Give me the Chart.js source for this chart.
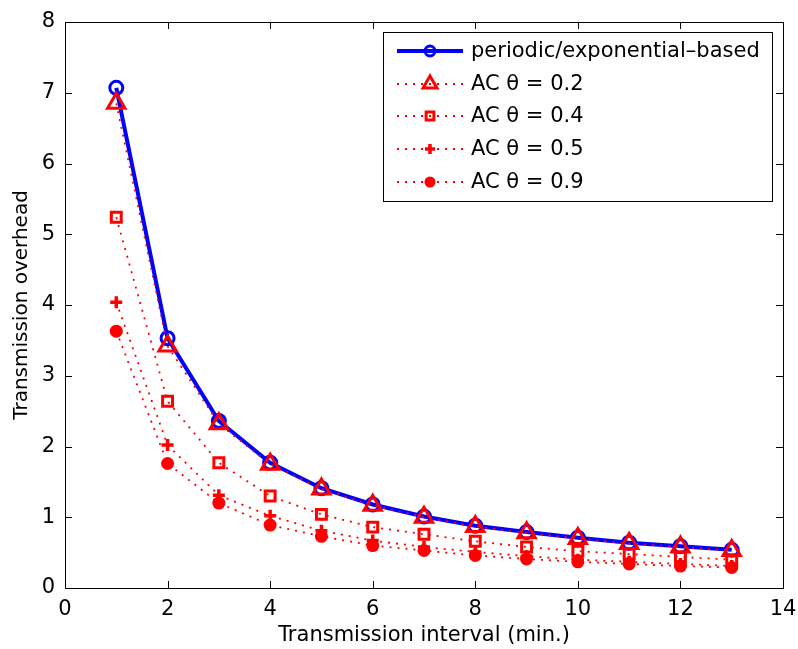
<!DOCTYPE html>
<html>
<head>
<meta charset="utf-8">
<script src="https://cdn.jsdelivr.net/npm/chart.js@4.4.1/dist/chart.umd.min.js"></script>
<style>
  body { margin: 0; background: #fff; }
  #wrap { width: 798px; height: 649px; }
</style>
</head>
<body>
<div id="wrap"><canvas id="overheadChart" width="798" height="649"></canvas></div>
<script>
// values
var intervals = [1, 2, 3, 4, 5, 6, 7, 8, 9, 10, 11, 12, 13];
var periodic = [7.07, 3.53, 2.36, 1.77, 1.41, 1.18, 1.01, 0.88, 0.79, 0.71, 0.64, 0.59, 0.54];
var ac02 = [6.85, 3.42, 2.32, 1.75, 1.40, 1.17, 1.00, 0.87, 0.78, 0.70, 0.63, 0.58, 0.53];
var ac04 = [5.24, 2.64, 1.77, 1.30, 1.04, 0.86, 0.76, 0.66, 0.58, 0.52, 0.48, 0.44, 0.40];
var ac05 = [4.04, 2.02, 1.31, 1.02, 0.81, 0.67, 0.58, 0.51, 0.45, 0.40, 0.37, 0.34, 0.31];
var ac09 = [3.63, 1.76, 1.20, 0.89, 0.73, 0.60, 0.53, 0.46, 0.41, 0.37, 0.34, 0.31, 0.29];
var seriesLabels = ['periodic/exponential\u2013based', 'AC \u03b8 = 0.2', 'AC \u03b8 = 0.4', 'AC \u03b8 = 0.5', 'AC \u03b8 = 0.9'];
var xTicks = [0, 2, 4, 6, 8, 10, 12, 14];
var yTicks = [0, 1, 2, 3, 4, 5, 6, 7, 8];

var BLUE = '#0000ff';
var RED = '#ff0000';
var NONE = 'rgba(0,0,0,0)';
var dotted = [2, 6];

function pts(ys) {
  return intervals.map(function (x, i) { return { x: x, y: ys[i] }; });
}

// matlab style inward ticks and box
var boxTicks = {
  id: 'boxTicks',
  beforeDatasetsDraw: function (chart) {
    var ctx = chart.ctx, a = chart.chartArea;
    var xs = chart.scales.x, ys = chart.scales.y;
    ctx.save();
    ctx.strokeStyle = '#000';
    ctx.lineWidth = 1;
    ctx.beginPath();
    xTicks.forEach(function (v) {
      var px = Math.round(xs.getPixelForValue(v)) + 0.5;
      ctx.moveTo(px, a.bottom); ctx.lineTo(px, a.bottom - 7);
      ctx.moveTo(px, a.top); ctx.lineTo(px, a.top + 7);
    });
    yTicks.forEach(function (v) {
      var py = Math.round(ys.getPixelForValue(v)) + 0.5;
      ctx.moveTo(a.left, py); ctx.lineTo(a.left + 7, py);
      ctx.moveTo(a.right, py); ctx.lineTo(a.right - 7, py);
    });
    ctx.stroke();
    ctx.strokeRect(Math.round(a.left) + 0.5, Math.round(a.top) + 0.5, Math.round(a.width), Math.round(a.height));
    ctx.restore();
  }
};

// legend drawn inside the axes, top right
var boxLegend = {
  id: 'boxLegend',
  afterDraw: function (chart) {
    var ctx = chart.ctx;
    var left = 383, top = 32, right = 772, bottom = 201;
    var rows = [51, 84, 116, 149, 182];
    var legendRadius = [5, 8, 5.5, 5, 5.5];
    ctx.save();
    ctx.fillStyle = '#fff';
    ctx.fillRect(left, top, right - left, bottom - top);
    ctx.strokeStyle = '#000';
    ctx.lineWidth = 1;
    ctx.strokeRect(left + 0.5, top + 0.5, right - left, bottom - top);
    chart.data.datasets.forEach(function (ds, i) {
      var y = rows[i];
      ctx.save();
      ctx.strokeStyle = ds.borderColor;
      ctx.lineWidth = ds.borderWidth;
      ctx.setLineDash(ds.borderDash || []);
      ctx.beginPath();
      ctx.moveTo(397, y); ctx.lineTo(463, y);
      ctx.stroke();
      ctx.restore();
      ctx.save();
      ctx.strokeStyle = ds.pointBorderColor;
      ctx.fillStyle = ds.pointBackgroundColor;
      ctx.lineWidth = ds.pointBorderWidth;
      Chart.helpers.drawPoint(ctx, {
        pointStyle: ds.pointStyle,
        radius: legendRadius[i],
        borderWidth: ds.pointBorderWidth,
        rotation: 0
      }, 430, y);
      ctx.restore();
      ctx.fillStyle = '#000';
      ctx.font = '21px "DejaVu Sans"';
      ctx.textBaseline = 'middle';
      ctx.fillText(ds.label, 471, y + 1);
    });
    ctx.restore();
  }
};

var ctx = document.getElementById('overheadChart').getContext('2d');
var overheadChart = new Chart(ctx, {
  type: 'line',
  data: {
    datasets: [
      {
        label: seriesLabels[0],
        data: pts(periodic),
        order: 5,
        borderColor: BLUE,
        borderWidth: 4,
        pointStyle: 'circle',
        pointRadius: 6.5,
        pointBorderWidth: 3,
        pointBorderColor: BLUE,
        pointBackgroundColor: NONE
      },
      {
        label: seriesLabels[1],
        data: pts(ac02),
        order: 4,
        borderColor: RED,
        borderWidth: 1.8,
        borderDash: dotted,
        pointStyle: 'triangle',
        pointRadius: 10,
        pointBorderWidth: 3,
        pointBorderColor: RED,
        pointBackgroundColor: NONE
      },
      {
        label: seriesLabels[2],
        data: pts(ac04),
        order: 3,
        borderColor: RED,
        borderWidth: 1.8,
        borderDash: dotted,
        pointStyle: 'rect',
        pointRadius: 7,
        pointBorderWidth: 3,
        pointBorderColor: RED,
        pointBackgroundColor: NONE
      },
      {
        label: seriesLabels[3],
        data: pts(ac05),
        order: 2,
        borderColor: RED,
        borderWidth: 1.8,
        borderDash: dotted,
        pointStyle: 'cross',
        pointRadius: 6,
        pointBorderWidth: 3.5,
        pointBorderColor: RED,
        pointBackgroundColor: RED
      },
      {
        label: seriesLabels[4],
        data: pts(ac09),
        order: 1,
        borderColor: RED,
        borderWidth: 1.8,
        borderDash: dotted,
        pointStyle: 'circle',
        pointRadius: 6.5,
        pointBorderWidth: 0,
        pointBorderColor: RED,
        pointBackgroundColor: RED
      }
    ]
  },
  options: {
    responsive: false,
    animation: false,
    layout: { padding: { top: 22, right: 15, left: 0, bottom: 0 } },
    elements: { line: { tension: 0, fill: false } },
    scales: {
      x: {
        type: 'linear',
        min: 0,
        max: 14,
        afterBuildTicks: function (scale) { scale.ticks = xTicks.map(function (v) { return { value: v }; }); },
        afterFit: function (scale) {
          scale.height = 61;
          scale.paddingLeft = 0;
          scale.paddingRight = 0;
        },
        grid: { display: false, drawTicks: false },
        border: { display: false },
        ticks: { color: '#000', padding: 9, maxRotation: 0, font: { family: 'DejaVu Sans', size: 21 } },
        title: {
          display: true,
          text: 'Transmission interval (min.)',
          color: '#000',
          padding: { top: 2, bottom: 1 },
          font: { family: 'DejaVu Sans', size: 21 }
        }
      },
      y: {
        type: 'linear',
        min: 0,
        max: 8,
        afterBuildTicks: function (scale) { scale.ticks = yTicks.map(function (v) { return { value: v }; }); },
        afterFit: function (scale) {
          scale.width = 65;
          scale.paddingTop = 0;
          scale.paddingBottom = 0;
        },
        grid: { display: false, drawTicks: false },
        border: { display: false },
        ticks: { color: '#000', padding: 10, font: { family: 'DejaVu Sans', size: 21 } },
        title: {
          display: true,
          text: 'Transmission overhead',
          color: '#000',
          padding: { top: 10, bottom: 0 },
          font: { family: 'DejaVu Sans', size: 20 }
        }
      }
    },
    plugins: {
      legend: { display: false },
      tooltip: { enabled: false }
    }
  },
  plugins: [boxTicks, boxLegend]
});
</script>
</body>
</html>
